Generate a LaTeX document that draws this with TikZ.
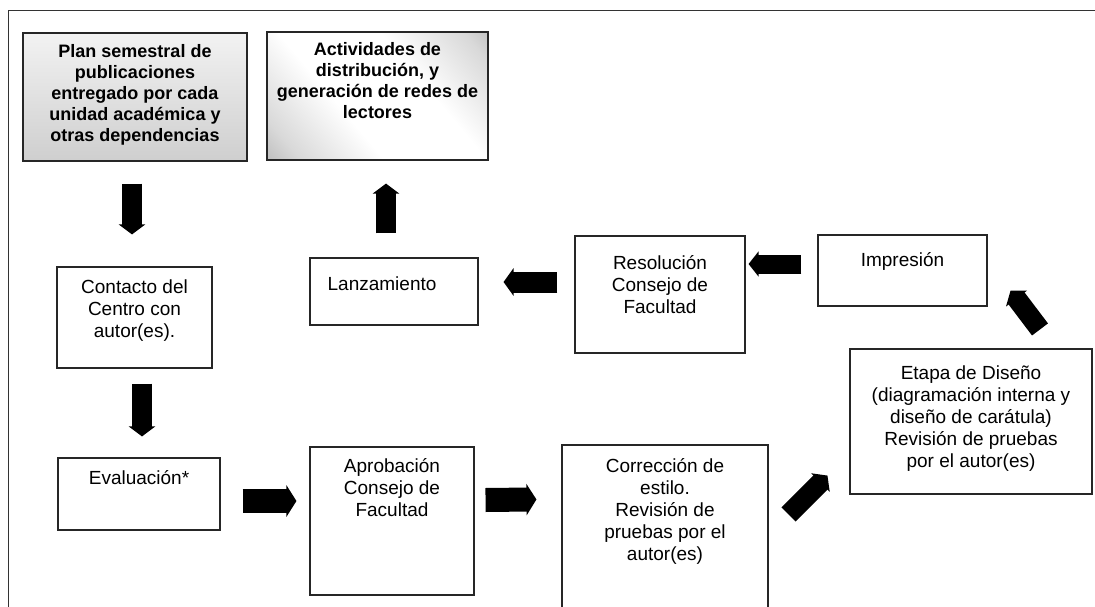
\documentclass[tikz,border=0pt]{standalone}
\usepackage{fontspec}
\setmainfont{Liberation Sans}
\usetikzlibrary{arrows.meta,positioning,calc}

\pgfdeclareverticalshading{actshade}{100bp}{color(0bp)=(gray!90); color(22bp)=(gray!30); color(40bp)=(white); color(62bp)=(white); color(80bp)=(gray!30); color(100bp)=(gray!90)}

\tikzset{
  procbox/.style={draw=black!85, line width=1.1pt, inner sep=0pt},
  boxtext/.style={inner sep=0pt, align=center, font=\fontsize{19}{22}\selectfont},
  titletext/.style={inner sep=0pt, align=center, font=\bfseries\fontsize{18}{21}\selectfont},
  bigarrow/.style={line width=#1, -{Triangle[length=10pt,width=0pt 1.3]}},
  bigarrow/.default=20pt
}

\begin{document}
\begin{tikzpicture}[x=1pt,y=-1pt]
\useasboundingbox (0,0) rectangle (1095,607);
% outer frame
\draw[line width=1pt, black!80] (8,607) -- (8,11) -- (1095,11);

% top row
\node[procbox, minimum width=224pt, minimum height=128pt, top color=gray!10, bottom color=gray!38] (plan) at (135,97) {};
\node[titletext, below=12pt of plan.north] {Plan semestral de\\publicaciones\\entregado por cada\\unidad académica y\\otras dependencias};
\node[procbox, minimum width=221pt, minimum height=128pt, shading=actshade, shading angle=-50] (activ) at (377.5,96) {};
\node[titletext, below=11pt of activ.north] {Actividades de\\distribución, y\\generación de redes de\\lectores};

% middle row
\node[procbox, minimum width=155pt, minimum height=101pt] (contacto) at (134.5,317.5) {};
\node[boxtext, below=13pt of contacto.north] {Contacto del\\Centro con\\autor(es).};
\node[procbox, minimum width=168pt, minimum height=67pt] (lanz) at (394,291.5) {};
\node[boxtext, below right=19pt and 18pt of lanz.north west, anchor=north west] {Lanzamiento};
\node[procbox, minimum width=170pt, minimum height=117pt] (res) at (660,294.5) {};
\node[boxtext, below=20pt of res.north] {Resolución\\Consejo de\\Facultad};
\node[procbox, minimum width=169pt, minimum height=71pt] (impr) at (902.5,270.5) {};
\node[boxtext, below=18pt of impr.north] {Impresión};
\node[procbox, minimum width=242pt, minimum height=145pt] (etapa) at (971,421.5) {};
\node[boxtext, below=17pt of etapa.north] {Etapa de Diseño\\(diagramación interna y\\diseño de carátula)\\Revisión de pruebas\\por el autor(es)};

% bottom row
\node[procbox, minimum width=162pt, minimum height=72pt] (eval) at (139,494) {};
\node[boxtext, below=13pt of eval.north] {Evaluación*};
\node[procbox, minimum width=164pt, minimum height=148pt] (aprob) at (392,521) {};
\node[boxtext, below=12pt of aprob.north] {Aprobación\\Consejo de\\Facultad};
\node[procbox, minimum width=206pt, minimum height=200pt] (corr) at (665,545) {};
\node[boxtext, below=14pt of corr.north] {Corrección de\\estilo.\\Revisión de\\pruebas por el\\autor(es)};

% arrows
\draw[bigarrow] ($(plan.south)+(-3,22)$) -- ($(contacto.north)+(-2.5,-32)$);
\draw[bigarrow] ($(contacto.south)+(7.5,15)$) -- ($(eval.north)+(3,-21)$);
\draw[bigarrow] ($(lanz.north)+(-8,-24)$) -- ($(activ.south)+(8.5,23)$);
\draw[bigarrow=21pt] ($(res.west)+(-17,-12.5)$) -- ($(lanz.east)+(25,-9.5)$);
\draw[bigarrow=19pt] ($(impr.west)+(-16,-6.5)$) -- ($(res.east)+(3,-30.5)$);
\draw[bigarrow] ($(etapa.north)+(69,-19)$) -- ($(impr.south east)+(23,-16)$);
\draw[bigarrow=24pt] ($(eval.east)+(22,7)$) -- ($(aprob.west)+(-13,-20)$);
\draw[bigarrow=24pt] ($(aprob.east)+(11,-21)$) -- ($(corr.north west)+(-25,55)$);
\draw[bigarrow] ($(corr.north east)+(20,70)$) -- ($(etapa.south west)+(-22,-19)$);
\end{tikzpicture}
\end{document}
